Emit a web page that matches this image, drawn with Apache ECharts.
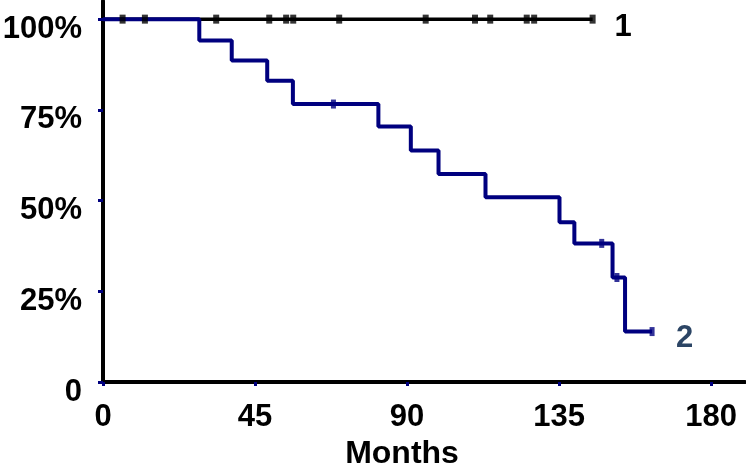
<!DOCTYPE html>
<html>
<head>
<meta charset="utf-8">
<script src="https://cdn.jsdelivr.net/npm/echarts@6/dist/echarts.min.js"></script>
<style>
    html, body { margin: 0; padding: 0; background: #fff; }
    #chart { width: 746px; height: 466px; }
</style>
</head>
<body>
<div id="chart"></div>
<script>
// tick positions and labels
const xTicks = [0, 45, 90, 135, 180]
const yTicks = [0, 25, 50, 75, 100]
const yTickLabels = ['0', '25%', '50%', '75%', '100%']

// group 1: no events, only censored cases
const group1Times = [0, 144.9]
const group1Surv = [100, 100]
const group1CensorTimes = [5.8, 12.4, 33.5, 49.2, 54.2, 56.3, 69.9, 95.5, 110.1, 114.6, 125.4, 127.6, 144.9]

// group 2: step curve
const group2Times = [0, 28.5, 38.1, 48.6, 56.2, 81.5, 91.1, 99.3, 113.2, 135.1, 139.5, 150.8, 154.5, 162.5]
const group2Surv = [100, 94.1, 88.6, 83.0, 76.6, 70.4, 63.8, 57.3, 50.9, 44.0, 38.2, 28.8, 13.9, 13.9]
const group2CensorTimes = [68.2, 147.6, 152.1, 162.5]
const group2CensorSurv = [76.6, 38.2, 28.8, 13.9]

const NAVY = '#00007f'
const FONT = 'Liberation Sans, Arial, sans-serif'

const zip = (a, b) => a.map((v, i) => [v, b[i]])

const myChart = echarts.init(document.getElementById('chart'))

const option = {
    animation: false,
    grid: {
        left: 103,
        right: 1,
        top: 1,
        bottom: 84,
        outerBoundsMode: 'none'
    },
    xAxis: {
        type: 'value',
        min: 0,
        max: 190,
        name: 'Months',
        nameLocation: 'middle',
        nameGap: 56,
        nameTextStyle: {
            color: '#000',
            fontFamily: FONT,
            fontWeight: 'bold',
            fontSize: 32,
            padding: [0, 44, 0, 0]
        },
        axisLine: { lineStyle: { color: '#000', width: 4 } },
        axisTick: {
            show: true,
            customValues: xTicks,
            length: 4,
            lineStyle: { color: NAVY, width: 3 }
        },
        axisLabel: {
            customValues: xTicks,
            margin: 20,
            color: '#000',
            fontFamily: FONT,
            fontWeight: 'bold',
            fontSize: 31
        },
        splitLine: { show: false }
    },
    yAxis: {
        type: 'value',
        min: 0,
        max: 105,
        axisLine: { show: true, lineStyle: { color: '#000', width: 4 } },
        axisTick: {
            show: true,
            customValues: yTicks,
            length: 5,
            lineStyle: { color: NAVY, width: 3 }
        },
        axisLabel: {
            customValues: yTicks,
            margin: 21,
            verticalAlign: 'top',
            lineHeight: 20,
            color: '#000',
            fontFamily: FONT,
            fontWeight: 'bold',
            fontSize: 31,
            formatter: (v) => yTickLabels[yTicks.indexOf(v)]
        },
        splitLine: { show: false }
    },
    series: [
        {
            type: 'line',
            step: 'end',
            data: zip(group1Times, group1Surv),
            showSymbol: false,
            lineStyle: { color: '#000', width: 3.5 },
            endLabel: {
                show: true,
                formatter: '1',
                offset: [14, 8],
                color: '#000',
                fontFamily: FONT,
                fontWeight: 'bold',
                fontSize: 31
            },
            z: 2
        },
        {
            type: 'line',
            step: 'end',
            data: zip(group2Times, group2Surv),
            showSymbol: false,
            lineStyle: { color: NAVY, width: 4 },
            endLabel: {
                show: true,
                formatter: '2',
                offset: [16, 7],
                color: '#2c4565',
                fontFamily: FONT,
                fontWeight: 'bold',
                fontSize: 31
            },
            z: 3
        },
        {
            type: 'scatter',
            data: zip(group2CensorTimes, group2CensorSurv),
            symbol: 'rect',
            symbolSize: [5, 9],
            itemStyle: { color: NAVY },
            z: 4
        },
        {
            type: 'scatter',
            data: group1CensorTimes.map(t => [t, 100]),
            symbol: 'rect',
            symbolSize: [6, 9],
            itemStyle: { color: '#000' },
            z: 5
        }
    ]
}

myChart.setOption(option)
</script>
</body>
</html>
